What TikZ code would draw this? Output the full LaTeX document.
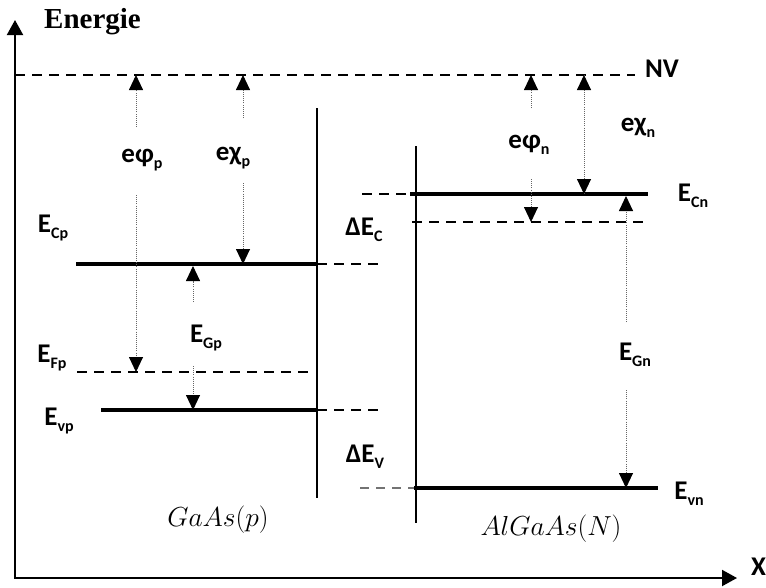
\RequirePackage{fix-cm}
\documentclass[tikz,border=0pt]{standalone}
\usepackage{fontspec}
\newfontfamily\labfont{Carlito}
\newfontfamily\titlefont{Liberation Serif}
\usetikzlibrary{arrows.meta,calc}
\newcommand\sbx[1]{\raisebox{-0.22em}{\fontsize{16}{16}\selectfont #1}}
\begin{document}
\begin{tikzpicture}[x=1pt,y=-1pt,
  lab/.style={font=\labfont\bfseries\fontsize{27}{27}\selectfont, inner sep=0pt},
  mlab/.style={font=\fontsize{27.5}{28}\selectfont, inner sep=0pt},
  thickl/.style={line width=3.4pt},
  dashl/.style={line width=2pt, dash pattern=on 10pt off 7pt},
  thinl/.style={line width=1.4pt},
  dotarrow/.style={line width=0.9pt, dash pattern=on 0.9pt off 1.2pt, black!60,
     -{Triangle[width=14pt,length=15pt,color=black]}},
  dotl/.style={line width=0.9pt, dash pattern=on 0.9pt off 1.2pt, black!60},
  axisl/.style={line width=2pt, {Triangle[width=16pt,length=15pt]}-{Triangle[width=16pt,length=15pt]}}
]
\useasboundingbox (0,0) rectangle (766,587);

% axes
\coordinate (Ytop) at (15,20);
\coordinate (O) at (15,578);
\coordinate (Xend) at (737,578);
\draw[axisl] (Ytop) -- (O) -- (Xend);
\node[font=\titlefont\bfseries\fontsize{29}{29}\selectfont, inner sep=0pt, anchor=base west] (energie) at (44,28) {Energie};
\node[lab, anchor=west] (xlab) at (751,567) {X};

% vacuum level
\coordinate (nvL) at (15,75);
\coordinate (nvR) at (635,75);
\draw[dashl] (nvL) -- (nvR);
\node[lab] (nv) at (662,69) {NV};

% interfaces
\coordinate (i1t) at (317,108); \coordinate (i1b) at (317,498);
\coordinate (i2t) at (416,146); \coordinate (i2b) at (416,523);
\draw[thinl] (i1t) -- (i1b);
\draw[thinl] (i2t) -- (i2b);

% GaAs(p) levels
\coordinate (ecpL) at (76,264); \coordinate (ecpR) at (317,264); \coordinate (ecpD) at (380,264);
\draw[thickl] (ecpL) -- (ecpR);
\draw[dashl] (ecpR) -- (ecpD);
\coordinate (efpL) at (77,372); \coordinate (efpR) at (312,372);
\draw[dashl] (efpL) -- (efpR);
\coordinate (evpL) at (101,410); \coordinate (evpR) at (317,410); \coordinate (evpD) at (384,410);
\draw[thickl] (evpL) -- (evpR);
\draw[dashl] (evpR) -- (evpD);

% AlGaAs(N) levels
\coordinate (ecnD) at (362,194); \coordinate (ecnL) at (410,194); \coordinate (ecnR) at (648,194);
\draw[dashl] (ecnD) -- (ecnL);
\draw[thickl] (ecnL) -- (ecnR);
\coordinate (efnL) at (412,222); \coordinate (efnR) at (647,222);
\draw[dashl] (efnL) -- (efnR);
\coordinate (evnD) at (360,488); \coordinate (evnL) at (414,488); \coordinate (evnR) at (658,488);
\draw[line width=1.4pt, black!55, dash pattern=on 9pt off 7pt] (evnD) -- (evnL);
\draw[thickl] (evnL) -- (evnR);

% e phi_p
\coordinate (a1t) at (136,75); \coordinate (a1m) at (136,127);
\coordinate (a1n) at (136,195); \coordinate (a1b) at (136,372);
\draw[dotarrow] (a1m) -- (a1t);
\draw[dotarrow] (a1n) -- (a1b);
\node[lab] (ephip) at (142,160) {eφ\sbx{p}};

% e chi_p
\coordinate (a2t) at (243,75); \coordinate (a2m) at (243,118);
\coordinate (a2n) at (243,183); \coordinate (a2b) at (243,264);
\draw[dotarrow] (a2m) -- (a2t);
\draw[dotarrow] (a2n) -- (a2b);
\node[lab] (echip) at (233,158) {eχ\sbx{p}};

% E_Gp
\coordinate (a3t) at (193,266); \coordinate (a3m) at (193,302);
\coordinate (a3n) at (193,366); \coordinate (a3b) at (193,410);
\draw[dotarrow] (a3m) -- (a3t);
\draw[dotarrow] (a3n) -- (a3b);
\node[lab] (egp) at (206,338) {E\sbx{Gp}};

% e phi_n
\coordinate (a4t) at (531,75); \coordinate (a4m) at (531,108);
\coordinate (a4n) at (531,179); \coordinate (a4b) at (531,222);
\draw[dotarrow] (a4m) -- (a4t);
\draw[dotarrow] (a4n) -- (a4b);
\node[lab] (ephin) at (529,145) {eφ\sbx{n}};

% e chi_n
\coordinate (a5t) at (584,75); \coordinate (a5b) at (584,194);
\draw[dotl] (a5t) -- (a5b);
\draw[dotarrow] ($(a5t)+(0,20)$) -- (a5t);
\draw[dotarrow] ($(a5b)+(0,-20)$) -- (a5b);
\node[lab] (echin) at (638,128) {eχ\sbx{n}};

% E_Gn
\coordinate (a6t) at (626,196); \coordinate (a6m) at (626,322);
\coordinate (a6n) at (626,390); \coordinate (a6b) at (626,488);
\draw[dotarrow] (a6m) -- (a6t);
\draw[dotarrow] (a6n) -- (a6b);
\node[lab] (egn) at (635,355) {E\sbx{Gn}};

% level labels
\node[lab] (ecp) at (53,228) {E\sbx{Cp}};
\node[lab] (efp) at (52,358) {E\sbx{Fp}};
\node[lab] (evp) at (59,421) {E\sbx{vp}};
\node[lab] (dec) at (364,230) {ΔE\sbx{C}};
\node[lab] (dev) at (365,457) {ΔE\sbx{V}};
\node[lab] (ecn) at (693,196) {E\sbx{Cn}};
\node[lab] (evn) at (689,494) {E\sbx{vn}};

% materials
\node[mlab] (gaas) at (218,520) {$GaAs(p)$};
\node[mlab] (algaas) at (551,529) {$AlGaAs(N)$};
\end{tikzpicture}
\end{document}
